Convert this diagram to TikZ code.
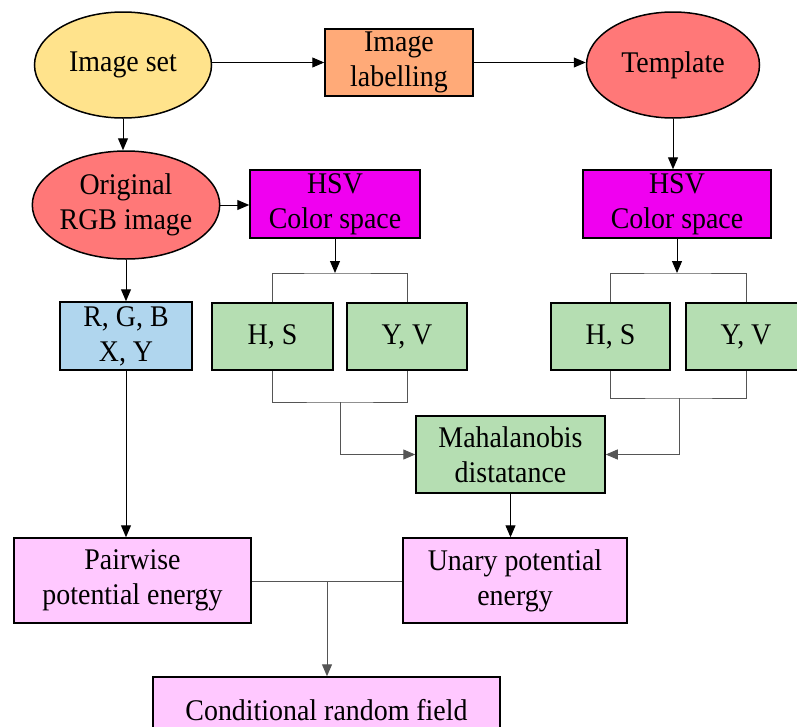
\documentclass[tikz,border=0pt]{standalone}
\usepackage{fontspec}
\setmainfont{Liberation Serif}[FakeStretch=0.93]
\usetikzlibrary{shapes.geometric,arrows.meta}
\definecolor{cyellow}{HTML}{FFE38C}
\definecolor{corange}{HTML}{FFAA78}
\definecolor{cred}{HTML}{FF7878}
\definecolor{cmag}{HTML}{F000F0}
\definecolor{cgreen}{HTML}{B5DEB2}
\definecolor{cblue}{HTML}{B0D6EE}
\definecolor{cpink}{HTML}{FFC8FF}
\definecolor{cline}{HTML}{555555}
\begin{document}
\begin{tikzpicture}[x=1pt,y=-1pt,
 every node/.style={font=\fontsize{30}{35}\selectfont, align=center, text=black},
 ell/.style={ellipse, draw, line width=1.5pt, minimum width=177pt, minimum height=106pt, inner sep=0pt},
 box/.style={rectangle, draw, line width=1.5pt, inner sep=0pt},
 arr/.style={-{Triangle[length=12pt,width=10pt]}, line width=1pt},
 brk/.style={draw=cline, line width=1pt}]
\clip (0,0) rectangle (797,726);
\fill[white] (0,0) rectangle (797,726);
% nodes
\node[ell, fill=cyellow] (set) at (123,65) {Image set};
\node[box, fill=corange, minimum width=148pt, minimum height=67pt] (lab) at (399,62.5) {Image\\labelling};
\node[ell, fill=cred, minimum width=173pt] (tpl) at (673,65) {Template};
\node[ell, fill=cred, minimum width=183pt, minimum height=108pt] (rgb) at (126,205) {Original\\RGB image};
\node[box, fill=cmag, minimum width=170pt, minimum height=68pt] (hsv1) at (335,204) {HSV\\Color space};
\node[box, fill=cmag, minimum width=188pt, minimum height=68pt] (hsv2) at (677,204) {HSV\\Color space};
\node[box, fill=cblue, minimum width=132pt, minimum height=68pt] (rgbxy) at (126,336) {R, G, B\\X, Y};
\node[box, fill=cgreen, minimum width=121pt, minimum height=67pt] (hs1) at (272.5,336.5) {H, S};
\node[box, fill=cgreen, minimum width=120pt, minimum height=67pt] (yv1) at (407,336.5) {Y, V};
\node[box, fill=cgreen, minimum width=119pt, minimum height=67pt] (hs2) at (610.5,336.5) {H, S};
\node[box, fill=cgreen, minimum width=120pt, minimum height=67pt] (yv2) at (746,336.5) {Y, V};
\node[box, fill=cgreen, minimum width=189pt, minimum height=77pt] (maha) at (510.5,454.5) {Mahalanobis\\distatance};
\node[box, fill=cpink, minimum width=237pt, minimum height=85pt] (pair) at (132.5,580.5) {Pairwise\\potential energy};
\node[box, fill=cpink, minimum width=224pt, minimum height=85pt] (unary) at (515,580.5) {Unary potential\\energy};
\node[box, fill=cpink, minimum width=347pt, minimum height=66pt] (crf) at (326.5,710) {Conditional random field};
% coordinates
\coordinate (b1) at (335,273);
\coordinate (b2) at (677,273);
\coordinate (c1) at (340,402);
\coordinate (c2) at (679,398);
\coordinate (j) at (327,581);
% connectors
\draw[arr] (lab.west -| set.east) -- (lab.west);
\draw[arr] (lab.east) -- (lab.east -| tpl.west);
\draw[arr] (set.south) -- (set.south |- rgb.north);
\draw[arr] (rgb.east) -- (rgb.east -| hsv1.west);
\draw[arr] (tpl.south) -- (tpl.south |- hsv2.north);
\draw[arr] (rgb.south) -- (rgb.south |- rgbxy.north);
\draw[arr] (hsv1.south) -- (b1);
\draw[arr] (hsv2.south) -- (b2);
\draw[brk] (hs1.north) |- (b1) -| (yv1.north);
\draw[brk] (hs2.north) |- (b2) -| (yv2.north);
\draw[brk] (hs1.south) |- (c1) -| (yv1.south);
\draw[brk] (hs2.south) |- (c2) -| (yv2.south);
\draw[arr, cline] (c1) |- (maha.west);
\draw[arr, cline] (c2) |- (maha.east);
\draw[arr] (maha.south) -- (maha.south |- unary.north);
\draw[arr] (rgbxy.south) -- (rgbxy.south |- pair.north);
\draw[brk] (pair.east |- j) -- (unary.west |- j);
\draw[arr, cline] (j) -- (j |- crf.north);
\end{tikzpicture}
\end{document}
